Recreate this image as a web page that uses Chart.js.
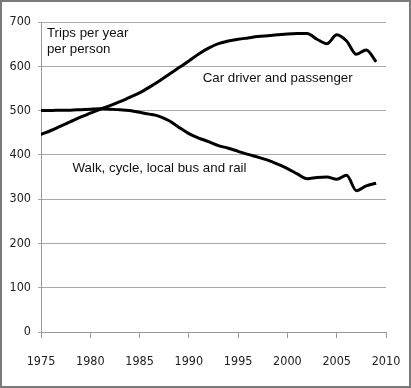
<!DOCTYPE html>
<html lang="en">
<head>
  <meta charset="UTF-8" />
  <title>Trips per year per person</title>
  <script src="https://cdn.jsdelivr.net/npm/chart.js"></script>
  <style>
    html, body { margin: 0; padding: 0; background: #fff; }
    #wrap { width: 411px; height: 388px; }
  </style>
</head>
<body>
  <div id="wrap"><canvas id="trips"></canvas></div>

  <script>
    // Data
    const years = [1975, 1976, 1977, 1978, 1979, 1980, 1981, 1982, 1983, 1984,
                   1985, 1986, 1987, 1988, 1989, 1990, 1991, 1992, 1993, 1994,
                   1995, 1996, 1997, 1998, 1999, 2000, 2001, 2002, 2003, 2004,
                   2005, 2006, 2007, 2008, 2009];
    const carTrips = [446, 455, 465, 475, 485, 494, 503, 511, 520, 530,
                      540, 553, 567, 582, 597, 612, 628, 641, 651, 657,
                      661, 664, 667, 669, 671, 673, 674, 674, 661, 651,
                      671, 657, 627, 637, 610];
    const walkTrips = [500, 500, 501, 501, 502, 503, 504, 503, 502, 500,
                       496, 492, 487, 477, 462, 448, 438, 430, 421, 415,
                       408, 401, 395, 388, 379, 369, 357, 346, 349, 350,
                       345, 354, 319, 330, 336];
    const xTicks = [1975, 1980, 1985, 1990, 1995, 2000, 2005, 2010];

    // Text labels, placed in data units
    const notes = [
      { text: 'Trips per year', x: 1975.6, y: 675 },
      { text: 'per person', x: 1975.6, y: 638 },
      { text: 'Car driver and passenger', x: 1991.4, y: 572 },
      { text: 'Walk, cycle, local bus and rail', x: 1978.2, y: 370 }
    ];

    const tickFont = { family: "'DejaVu Sans Condensed', 'Liberation Sans Narrow', sans-serif", size: 12.5 };

    const toPoints = vals => vals.map((v, i) => ({ x: years[i], y: v }));

    // White background + grey frame round the picture
    const framePlugin = {
      id: 'frame',
      beforeDraw(chart) {
        const c = chart.ctx;
        c.save();
        c.fillStyle = '#fff';
        c.fillRect(0, 0, chart.width, chart.height);
        c.restore();
      },
      afterDraw(chart) {
        const c = chart.ctx;
        c.save();
        c.strokeStyle = '#7a7a7a';
        c.lineWidth = 2;
        c.strokeRect(1, 1, chart.width - 2, chart.height - 2);
        c.restore();
      }
    };

    // Annotations on the plot
    const notesPlugin = {
      id: 'notes',
      afterDatasetsDraw(chart) {
        const c = chart.ctx;
        const xs = chart.scales.x, ys = chart.scales.y;
        c.save();
        c.fillStyle = '#111';
        c.font = "13.3px 'Liberation Sans', Arial, sans-serif";
        c.textAlign = 'left';
        c.textBaseline = 'middle';
        notes.forEach(n => c.fillText(n.text, xs.getPixelForValue(n.x), ys.getPixelForValue(n.y)));
        c.restore();
      }
    };

    new Chart(document.getElementById('trips'), {
      type: 'line',
      data: {
        datasets: [
          { label: 'Car driver and passenger', data: toPoints(carTrips) },
          { label: 'Walk, cycle, local bus and rail', data: toPoints(walkTrips) }
        ]
      },
      options: {
        responsive: true,
        maintainAspectRatio: false,
        animation: false,
        layout: { padding: { left: 4, right: 25, top: 22, bottom: 3 } },
        elements: {
          line: { borderColor: '#000', borderWidth: 3, tension: 0.4, cubicInterpolationMode: 'monotone' },
          point: { radius: 0 }
        },
        scales: {
          x: {
            type: 'linear',
            min: 1975,
            max: 2010,
            afterBuildTicks: s => { s.ticks = xTicks.map(v => ({ value: v })); },
            // labels overhang into the padding, don't let them squeeze the plot
            afterFit: s => { s.paddingLeft = 0; s.paddingRight = 0; },
            ticks: { color: '#222', font: tickFont, padding: 16, maxRotation: 0, callback: v => String(v) },
            grid: { drawOnChartArea: false, drawTicks: true, tickLength: 6, color: '#999' },
            border: { color: '#999', width: 1 }
          },
          y: {
            min: 0,
            max: 700,
            afterFit: s => { s.width = 37; s.paddingTop = 0; s.paddingBottom = 0; },
            ticks: { stepSize: 100, color: '#222', font: tickFont, padding: 7 },
            grid: { color: '#aaa', tickLength: 3 },
            border: { color: '#999', width: 1 }
          }
        },
        plugins: {
          legend: { display: false },
          tooltip: { enabled: false }
        }
      },
      plugins: [framePlugin, notesPlugin]
    });
  </script>
</body>
</html>
